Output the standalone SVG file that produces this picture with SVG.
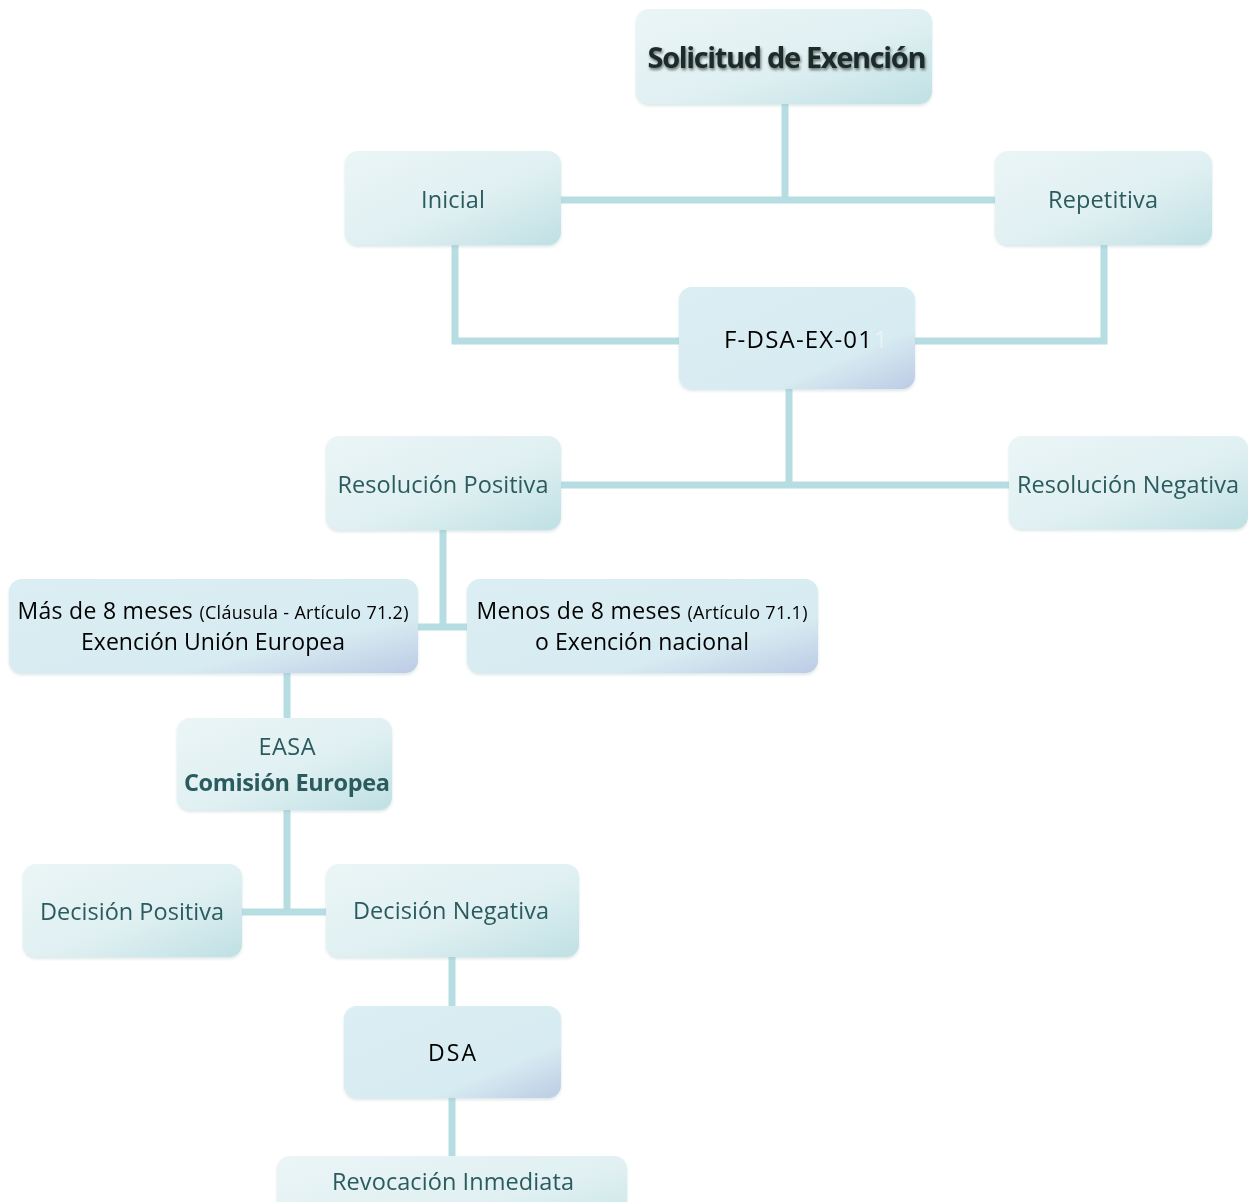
<svg xmlns="http://www.w3.org/2000/svg" width="1248" height="1202" viewBox="0 0 1248 1202">
<defs>
<linearGradient id="gT" x1="0" y1="0" x2="1" y2="1">
<stop offset="0" stop-color="#ebf5f6"/>
<stop offset="0.55" stop-color="#e0f0f2"/>
<stop offset="1" stop-color="#bfe0e4"/>
</linearGradient>
<linearGradient id="gB" x1="0" y1="0" x2="1" y2="1">
<stop offset="0" stop-color="#daeef3"/>
<stop offset="0.7" stop-color="#d7ebf2"/>
<stop offset="1" stop-color="#bccbe4"/>
</linearGradient>
<filter id="ts" x="-10%" y="-30%" width="120%" height="160%">
<feGaussianBlur in="SourceAlpha" stdDeviation="1.5"/>
<feOffset dx="1" dy="2" result="b"/>
<feFlood flood-color="#000" flood-opacity="0.55"/>
<feComposite in2="b" operator="in"/>
<feMerge><feMergeNode/><feMergeNode in="SourceGraphic"/></feMerge>
</filter>
<filter id="bs" x="-5%" y="-5%" width="110%" height="115%">
<feGaussianBlur in="SourceAlpha" stdDeviation="1.5"/>
<feOffset dx="0" dy="2" result="b"/>
<feFlood flood-color="#9fb8bb" flood-opacity="0.35"/>
<feComposite in2="b" operator="in"/>
<feMerge><feMergeNode/><feMergeNode in="SourceGraphic"/></feMerge>
</filter>
</defs>
<style>
.c{fill:none;stroke:#b6dee2;stroke-width:7}
.t{fill:url(#gT)}
.b{fill:url(#gB)}
.tx{font-family:"Open Sans","DejaVu Sans",sans-serif;font-size:23.5px;fill:#2c5b5e;text-anchor:middle}
.bk{font-family:"Open Sans","Liberation Sans",sans-serif;font-size:23px;fill:#000;text-anchor:middle}
.sm{font-size:18px}
.bold{font-weight:bold}
</style>
<rect width="1248" height="1202" fill="#fff"/>
<g id="connectors">
<path class="c" d="M785 104V200M561 200H995"/>
<path class="c" d="M455 245V341H679M1104 245V341H915"/>
<path class="c" d="M789 389V485M561 485H1010"/>
<path class="c" d="M443 530V627M418 627H467"/>
<path class="c" d="M287 673V718"/>
<path class="c" d="M287 810V912M242 912H326"/>
<path class="c" d="M452 957V1006"/>
<path class="c" d="M452 1098V1156"/>
</g>
<g id="solicitud" filter="url(#bs)">
<rect class="t" x="636" y="9" width="296" height="95" rx="13"/>
<text class="tx bold" x="787" y="68" style="fill:#1d2b2b;font-size:29px" textLength="279" filter="url(#ts)">Solicitud de Exención</text>
</g>
<g id="inicial" filter="url(#bs)">
<rect class="t" x="345" y="151" width="216" height="94" rx="13"/>
<text class="tx" x="453" y="208" textLength="64">Inicial</text>
</g>
<g id="repetitiva" filter="url(#bs)">
<rect class="t" x="995" y="151" width="217" height="94" rx="13"/>
<text class="tx" x="1103" y="208" textLength="110">Repetitiva</text>
</g>
<g id="fdsa" filter="url(#bs)">
<rect class="b" x="679" y="287" width="236" height="102" rx="13"/>
<text class="bk" x="798" y="348" style="font-size:24px" textLength="148">F-DSA-EX-01</text>
<text x="874" y="348" font-family="Open Sans, sans-serif" font-size="24" fill="#ffffff" fill-opacity="0.45">1</text>
</g>
<g id="resPositiva" filter="url(#bs)">
<rect class="t" x="326" y="436" width="235" height="94" rx="13"/>
<text class="tx" x="443" y="493" textLength="211">Resolución Positiva</text>
</g>
<g id="resNegativa" filter="url(#bs)">
<rect class="t" x="1009" y="436" width="239" height="93" rx="13"/>
<text class="tx" x="1128" y="493" textLength="222">Resolución Negativa</text>
</g>
<g id="mas8" filter="url(#bs)">
<rect class="b" x="9" y="579" width="409" height="94" rx="13"/>
<text class="bk" x="213" y="619" textLength="391">Más de 8 meses <tspan class="sm">(Cláusula - Artículo 71.2)</tspan></text>
<text class="bk" x="213" y="650" textLength="264">Exención Unión Europea</text>
</g>
<g id="menos8" filter="url(#bs)">
<rect class="b" x="467" y="579" width="351" height="94" rx="13"/>
<text class="bk" x="642" y="619" textLength="331">Menos de 8 meses <tspan class="sm">(Artículo 71.1)</tspan></text>
<text class="bk" x="642" y="650" textLength="214">o Exención nacional</text>
</g>
<g id="easa" filter="url(#bs)">
<rect class="t" x="177" y="718" width="215" height="92" rx="13"/>
<text class="tx" x="287" y="755" textLength="57">EASA</text>
<text class="tx bold" x="287" y="791" textLength="206">Comisión Europea</text>
</g>
<g id="decPositiva" filter="url(#bs)">
<rect class="t" x="23" y="864" width="219" height="93" rx="13"/>
<text class="tx" x="132" y="920" textLength="184">Decisión Positiva</text>
</g>
<g id="decNegativa" filter="url(#bs)">
<rect class="t" x="326" y="864" width="253" height="93" rx="13"/>
<text class="tx" x="451" y="919" textLength="196">Decisión Negativa</text>
</g>
<g id="dsa" filter="url(#bs)">
<rect class="b" x="344" y="1006" width="217" height="92" rx="13"/>
<text class="bk" x="452" y="1061" textLength="48">DSA</text>
</g>
<g id="revocacion" filter="url(#bs)">
<rect class="t" x="277" y="1156" width="350" height="94" rx="13"/>
<text class="tx" x="453" y="1190" textLength="242">Revocación Inmediata</text>
</g>
</svg>
